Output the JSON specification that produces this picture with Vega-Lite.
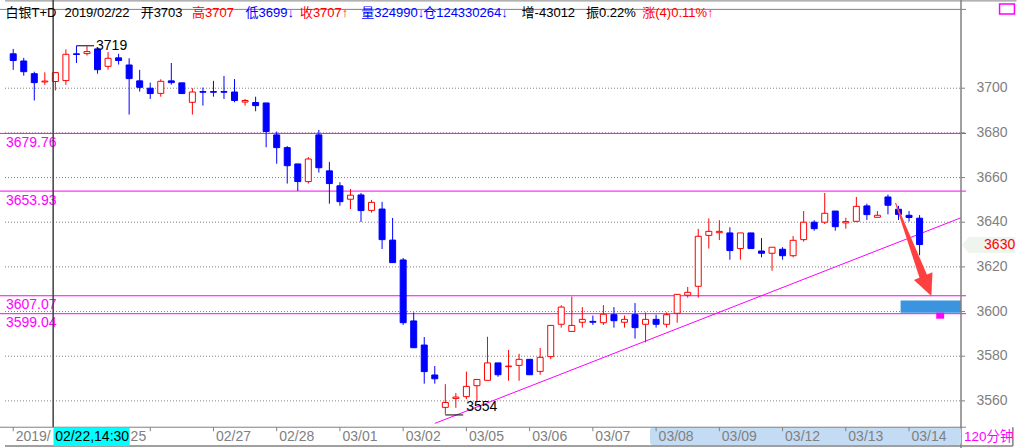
{
  "$schema": "https://vega.github.io/schema/vega-lite/v6.json",
  "width": 966,
  "height": 448,
  "autosize": {"type": "none"},
  "padding": {"left": 0, "top": 0, "right": 56, "bottom": 0},
  "background": "#ffffff",
  "config": {"view": {"stroke": null}},
  "datasets": {
    "k": [
      {"i":0,"o":3715.4,"h":3717.6,"l":3708.2,"c":3712.4},
      {"i":1,"o":3712.2,"h":3713.6,"l":3705.6,"c":3707.4},
      {"i":2,"o":3706.5,"h":3707.4,"l":3694.5,"c":3702.5},
      {"i":3,"o":3702.8,"h":3707.1,"l":3701.5,"c":3703.2},
      {"i":4,"o":3703.0,"h":3707.0,"l":3699.0,"c":3707.0},
      {"i":5,"o":3703.4,"h":3717.4,"l":3701.5,"c":3715.2},
      {"i":6,"o":3715.4,"h":3719.0,"l":3711.3,"c":3715.1},
      {"i":7,"o":3715.5,"h":3718.8,"l":3714.6,"c":3716.4},
      {"i":8,"o":3717.6,"h":3717.6,"l":3706.5,"c":3708.3},
      {"i":9,"o":3709.8,"h":3716.2,"l":3708.3,"c":3713.4},
      {"i":10,"o":3713.6,"h":3715.4,"l":3710.6,"c":3712.4},
      {"i":11,"o":3710.4,"h":3713.4,"l":3688.2,"c":3704.3},
      {"i":12,"o":3703.3,"h":3708.2,"l":3698.5,"c":3700.4},
      {"i":13,"o":3700.0,"h":3702.5,"l":3695.2,"c":3697.6},
      {"i":14,"o":3697.7,"h":3704.0,"l":3696.2,"c":3703.1},
      {"i":15,"o":3703.3,"h":3711.3,"l":3701.6,"c":3702.5},
      {"i":16,"o":3702.4,"h":3702.4,"l":3697.6,"c":3697.6},
      {"i":17,"o":3693.7,"h":3700.0,"l":3688.2,"c":3698.3},
      {"i":18,"o":3698.5,"h":3700.3,"l":3692.2,"c":3698.2},
      {"i":19,"o":3698.5,"h":3703.3,"l":3696.2,"c":3698.2},
      {"i":20,"o":3698.5,"h":3705.5,"l":3695.2,"c":3698.2},
      {"i":21,"o":3698.3,"h":3704.1,"l":3693.7,"c":3694.5},
      {"i":22,"o":3693.8,"h":3695.2,"l":3692.2,"c":3694.5},
      {"i":23,"o":3693.6,"h":3696.2,"l":3689.7,"c":3692.2},
      {"i":24,"o":3693.4,"h":3693.4,"l":3673.6,"c":3680.6},
      {"i":25,"o":3679.1,"h":3680.6,"l":3666.2,"c":3673.4},
      {"i":26,"o":3673.4,"h":3674.1,"l":3657.3,"c":3665.3},
      {"i":27,"o":3666.1,"h":3666.1,"l":3654.0,"c":3658.2},
      {"i":28,"o":3658.2,"h":3669.2,"l":3657.3,"c":3668.3},
      {"i":29,"o":3679.1,"h":3681.3,"l":3662.2,"c":3664.4},
      {"i":30,"o":3663.0,"h":3667.0,"l":3648.3,"c":3657.3},
      {"i":31,"o":3656.3,"h":3657.9,"l":3647.4,"c":3649.2},
      {"i":32,"o":3650.3,"h":3654.9,"l":3645.9,"c":3652.1},
      {"i":33,"o":3652.2,"h":3653.1,"l":3640.1,"c":3645.2},
      {"i":34,"o":3645.3,"h":3650.0,"l":3644.3,"c":3648.9},
      {"i":35,"o":3645.9,"h":3649.1,"l":3628.0,"c":3632.2},
      {"i":36,"o":3632.0,"h":3641.9,"l":3621.9,"c":3621.9},
      {"i":37,"o":3623.1,"h":3624.0,"l":3594.0,"c":3595.0},
      {"i":38,"o":3595.8,"h":3599.6,"l":3583.8,"c":3583.8},
      {"i":39,"o":3585.0,"h":3588.6,"l":3567.7,"c":3573.1},
      {"i":40,"o":3571.6,"h":3575.6,"l":3567.7,"c":3569.9},
      {"i":41,"o":3557.1,"h":3567.5,"l":3554.0,"c":3559.3},
      {"i":42,"o":3561.1,"h":3563.5,"l":3556.9,"c":3561.7},
      {"i":43,"o":3561.9,"h":3573.1,"l":3560.8,"c":3566.5},
      {"i":44,"o":3566.8,"h":3569.6,"l":3559.3,"c":3569.6},
      {"i":45,"o":3569.2,"h":3588.7,"l":3569.2,"c":3577.0},
      {"i":46,"o":3577.0,"h":3577.0,"l":3570.8,"c":3571.7},
      {"i":47,"o":3575.3,"h":3582.8,"l":3569.0,"c":3575.6},
      {"i":48,"o":3575.9,"h":3581.1,"l":3569.0,"c":3578.6},
      {"i":49,"o":3578.6,"h":3578.6,"l":3571.7,"c":3571.7},
      {"i":50,"o":3573.2,"h":3583.7,"l":3571.7,"c":3579.5},
      {"i":51,"o":3579.8,"h":3593.8,"l":3578.7,"c":3593.8},
      {"i":52,"o":3594.3,"h":3602.8,"l":3592.8,"c":3602.0},
      {"i":53,"o":3591.1,"h":3606.7,"l":3591.1,"c":3593.8},
      {"i":54,"o":3595.2,"h":3602.0,"l":3592.8,"c":3596.5},
      {"i":55,"o":3595.6,"h":3598.2,"l":3594.0,"c":3595.2},
      {"i":56,"o":3595.0,"h":3602.9,"l":3594.0,"c":3598.8},
      {"i":57,"o":3598.6,"h":3602.0,"l":3592.8,"c":3595.9},
      {"i":58,"o":3595.2,"h":3598.2,"l":3592.8,"c":3596.5},
      {"i":59,"o":3598.6,"h":3603.8,"l":3587.9,"c":3592.8},
      {"i":60,"o":3594.3,"h":3599.6,"l":3586.2,"c":3596.5},
      {"i":61,"o":3596.5,"h":3598.6,"l":3592.8,"c":3594.3},
      {"i":62,"o":3594.3,"h":3599.6,"l":3592.8,"c":3598.6},
      {"i":63,"o":3599.2,"h":3607.7,"l":3595.0,"c":3607.7},
      {"i":64,"o":3607.3,"h":3611.0,"l":3606.2,"c":3608.6},
      {"i":65,"o":3611.3,"h":3637.0,"l":3606.2,"c":3633.7},
      {"i":66,"o":3634.1,"h":3641.7,"l":3628.2,"c":3635.9},
      {"i":67,"o":3635.3,"h":3640.9,"l":3632.0,"c":3635.9},
      {"i":68,"o":3635.2,"h":3637.7,"l":3623.2,"c":3627.3},
      {"i":69,"o":3628.2,"h":3635.2,"l":3623.2,"c":3635.2},
      {"i":70,"o":3635.2,"h":3635.2,"l":3628.2,"c":3628.2},
      {"i":71,"o":3627.1,"h":3632.9,"l":3624.3,"c":3626.1},
      {"i":72,"o":3626.1,"h":3628.8,"l":3618.3,"c":3628.8},
      {"i":73,"o":3627.9,"h":3628.8,"l":3623.2,"c":3625.0},
      {"i":74,"o":3625.0,"h":3633.8,"l":3624.3,"c":3631.9},
      {"i":75,"o":3632.2,"h":3645.0,"l":3631.3,"c":3640.0},
      {"i":76,"o":3640.0,"h":3640.9,"l":3636.2,"c":3637.1},
      {"i":77,"o":3640.0,"h":3653.1,"l":3639.2,"c":3644.0},
      {"i":78,"o":3645.0,"h":3645.0,"l":3636.2,"c":3638.0},
      {"i":79,"o":3639.7,"h":3642.0,"l":3637.1,"c":3640.3},
      {"i":80,"o":3640.4,"h":3651.3,"l":3640.0,"c":3647.1},
      {"i":81,"o":3647.3,"h":3648.3,"l":3641.0,"c":3643.4},
      {"i":82,"o":3642.2,"h":3645.0,"l":3642.2,"c":3643.1},
      {"i":83,"o":3651.3,"h":3652.4,"l":3643.5,"c":3647.6},
      {"i":84,"o":3645.8,"h":3647.3,"l":3641.0,"c":3643.5},
      {"i":85,"o":3643.1,"h":3645.0,"l":3640.3,"c":3642.1},
      {"i":86,"o":3641.8,"h":3643.2,"l":3625.2,"c":3630.0}
    ],
    "lv": [{"v":3679.76},{"v":3653.93},{"v":3607.07},{"v":3599.04}],
    "yt": [{"v":3560},{"v":3580},{"v":3600},{"v":3620},{"v":3640},{"v":3660},{"v":3680},{"v":3700}],
    "trend": [{"i":40,"v":3549.9},{"i":89.93,"v":3642.0}],
    "arrow": [{"i":83.73,"v":3648.5},{"i":86.34,"v":3615.9}],
    "dates": [
      {"i":0,"t":"2019/"},{"i":13,"t":""},{"i":19,"t":"02/27"},
      {"i":25,"t":"02/28"},{"i":31,"t":"03/01"},{"i":37,"t":"03/02"},{"i":43,"t":"03/05"},
      {"i":49,"t":"03/06"},{"i":55,"t":"03/07"},{"i":61,"t":"03/08"},{"i":67,"t":"03/09"},
      {"i":73,"t":"03/12"},{"i":79,"t":"03/13"},{"i":85,"t":"03/14"}
    ]
  },
  "layer": [
    {
      "data": {"name": "yt"},
      "mark": {"type": "rule", "color": "#808080", "strokeWidth": 1, "strokeDash": [1, 2]},
      "encoding": {
        "x": {"datum": -0.779, "type": "quantitative", "scale": {"domain": [-0.779, 89.93], "nice": false, "zero": false}, "axis": null},
        "x2": {"datum": 89.93},
        "y": {"field": "v", "type": "quantitative", "scale": {"domain": [3538.9, 3739.5], "nice": false, "zero": false}, "axis": null}
      }
    },
    {
      "data": {"name": "lv"},
      "mark": {"type": "rule", "color": "#ff00ff", "strokeWidth": 1},
      "encoding": {
        "y": {"field": "v", "type": "quantitative", "axis": null}
      }
    },
    {
      "data": {"name": "trend"},
      "mark": {"type": "line", "color": "#ff00ff", "strokeWidth": 1},
      "encoding": {
        "x": {"field": "i", "type": "quantitative", "axis": null},
        "y": {"field": "v", "type": "quantitative", "axis": null}
      }
    },
    {
      "data": {"name": "k"},
      "mark": {"type": "rule", "strokeWidth": 1},
      "encoding": {
        "x": {"field": "i", "type": "quantitative", "axis": null},
        "y": {"field": "l", "type": "quantitative", "axis": null},
        "y2": {"field": "h"},
        "color": {"condition": {"test": "datum.c >= datum.o", "value": "#ff0000"}, "value": "#0000ff"}
      }
    },
    {
      "data": {"name": "k"},
      "mark": {"type": "bar", "size": 6, "strokeWidth": 1},
      "encoding": {
        "x": {"field": "i", "type": "quantitative", "axis": null},
        "y": {"field": "o", "type": "quantitative", "axis": null},
        "y2": {"field": "c"},
        "fill": {"condition": {"test": "datum.c >= datum.o", "value": "#ffffff"}, "value": "#0000ff"},
        "stroke": {"condition": {"test": "datum.c >= datum.o", "value": "#ff0000"}, "value": "#0000ff"}
      }
    },
    {
      "data": {"name": "lv"},
      "mark": {"type": "text", "align": "left", "baseline": "top", "dy": 2.5, "font": "Liberation Sans", "fontSize": 14, "color": "#ff00ff"},
      "encoding": {
        "x": {"datum": -0.69, "type": "quantitative", "axis": null},
        "y": {"field": "v", "type": "quantitative", "axis": null},
        "text": {"field": "v", "type": "quantitative", "format": ".2f"}
      }
    },
    {
      "data": {"values": [{}]},
      "mark": {"type": "rule", "color": "#000000", "strokeWidth": 1},
      "encoding": {"x": {"datum": 6.0, "type": "quantitative", "axis": null}, "x2": {"datum": 7.67}, "y": {"datum": 3719.0, "type": "quantitative", "axis": null}}
    },
    {
      "data": {"values": [{}]},
      "mark": {"type": "text", "text": "3719", "align": "left", "baseline": "middle", "font": "Liberation Sans", "fontSize": 14, "color": "#000000"},
      "encoding": {"x": {"datum": 7.86, "type": "quantitative", "axis": null}, "y": {"datum": 3719.0, "type": "quantitative", "axis": null}}
    },
    {
      "data": {"values": [{}]},
      "mark": {"type": "rule", "color": "#000000", "strokeWidth": 1},
      "encoding": {"x": {"datum": 41.0, "type": "quantitative", "axis": null}, "x2": {"datum": 42.7}, "y": {"datum": 3553.7, "type": "quantitative", "axis": null}}
    },
    {
      "data": {"values": [{}]},
      "mark": {"type": "text", "text": "3554", "align": "left", "baseline": "middle", "font": "Liberation Sans", "fontSize": 14, "color": "#000000"},
      "encoding": {"x": {"datum": 42.98, "type": "quantitative", "axis": null}, "y": {"datum": 3557.3, "type": "quantitative", "axis": null}}
    },
    {
      "data": {"values": [{}]},
      "mark": {"type": "rect", "color": "#3a94e0"},
      "encoding": {"x": {"datum": 84.2, "type": "quantitative", "axis": null}, "x2": {"datum": 89.93}, "y": {"datum": 3599.5, "type": "quantitative", "axis": null}, "y2": {"datum": 3604.9}}
    },
    {
      "data": {"values": [{}]},
      "mark": {"type": "rect", "color": "#ff00ff"},
      "encoding": {"x": {"datum": 87.58, "type": "quantitative", "axis": null}, "x2": {"datum": 88.33}, "y": {"datum": 3596.8, "type": "quantitative", "axis": null}, "y2": {"datum": 3599.5}}
    },
    {
      "data": {"name": "arrow"},
      "mark": {"type": "trail", "color": "#ff4040"},
      "encoding": {
        "x": {"field": "i", "type": "quantitative", "axis": null},
        "y": {"field": "v", "type": "quantitative", "axis": null},
        "size": {"field": "v", "type": "quantitative", "scale": {"domain": [3648.5, 3615.9], "range": [1, 8]}, "legend": null}
      }
    },
    {
      "data": {"values": [{}]},
      "mark": {"type": "point", "shape": "M -0.93 -1 L 0.93 -1 L 0 1 Z", "size": 466, "angle": 337.7, "filled": true, "color": "#ff4040", "opacity": 1},
      "encoding": {"x": {"datum": 86.73, "type": "quantitative", "axis": null}, "y": {"datum": 3611.4, "type": "quantitative", "axis": null}}
    },
    {
      "data": {"values": [{}]},
      "mark": {"type": "rule", "color": "#808080", "strokeWidth": 1},
      "encoding": {"y": {"datum": 3735.3, "type": "quantitative", "axis": null}}
    },
    {
      "data": {"values": [{}]},
      "mark": {"type": "rule", "color": "#808080", "strokeWidth": 1},
      "encoding": {"x": {"datum": -0.779, "type": "quantitative", "axis": null}, "x2": {"datum": 95.2}, "y": {"datum": 3739.1, "type": "quantitative", "axis": null}}
    },
    {
      "data": {"values": [{}]},
      "mark": {"type": "rect", "fillOpacity": 0, "stroke": "#ff00ff", "strokeWidth": 1.5},
      "encoding": {"x": {"datum": 93.59, "type": "quantitative", "axis": null}, "x2": {"datum": 95.0}, "y": {"datum": 3733.2, "type": "quantitative", "axis": null}, "y2": {"datum": 3737.7}}
    },
    {
      "data": {"values": [{}]},
      "mark": {"type": "rule", "color": "#404040", "strokeWidth": 1.5},
      "encoding": {"x": {"datum": 3.79, "type": "quantitative", "axis": null}, "y": {"datum": 3548.2, "type": "quantitative", "axis": null}, "y2": {"datum": 3739.5}}
    },
    {
      "data": {"name": "yt"},
      "mark": {"type": "rule", "color": "#808080", "strokeWidth": 1},
      "encoding": {"x": {"datum": 89.93, "type": "quantitative", "axis": null}, "x2": {"datum": 90.31}, "y": {"field": "v", "type": "quantitative", "axis": null}}
    },
    {
      "data": {"name": "yt"},
      "mark": {"type": "text", "align": "left", "baseline": "middle", "font": "Liberation Sans", "fontSize": 14, "color": "#808080"},
      "encoding": {"x": {"datum": 91.4, "type": "quantitative", "axis": null}, "y": {"field": "v", "type": "quantitative", "axis": null}, "text": {"field": "v", "type": "quantitative", "format": "d"}}
    },
    {
      "data": {"values": [{}]},
      "mark": {"type": "rule", "color": "#808080", "strokeWidth": 1.5},
      "encoding": {"x": {"datum": 89.93, "type": "quantitative", "axis": null}, "y": {"datum": 3538.9, "type": "quantitative", "axis": null}, "y2": {"datum": 3739.5}}
    },
    {
      "data": {"values": [{}]},
      "mark": {"type": "text", "text": "白银T+D", "align": "left", "baseline": "alphabetic", "font": "Liberation Sans, Noto Sans CJK SC", "fontSize": 13, "color": "#000000"},
      "encoding": {"x": {"datum": -0.73, "type": "quantitative", "axis": null}, "y": {"datum": 3732.0, "type": "quantitative", "axis": null}}
    },
    {
      "data": {"values": [{}]},
      "mark": {"type": "text", "text": "2019/02/22", "align": "left", "baseline": "alphabetic", "font": "Liberation Sans, Noto Sans CJK SC", "fontSize": 13, "color": "#000000"},
      "encoding": {"x": {"datum": 4.86, "type": "quantitative", "axis": null}, "y": {"datum": 3732.0, "type": "quantitative", "axis": null}}
    },
    {
      "data": {"values": [{}]},
      "mark": {"type": "text", "text": "开3703", "align": "left", "baseline": "alphabetic", "font": "Liberation Sans, Noto Sans CJK SC", "fontSize": 13, "color": "#000000"},
      "encoding": {"x": {"datum": 12.09, "type": "quantitative", "axis": null}, "y": {"datum": 3732.0, "type": "quantitative", "axis": null}}
    },
    {
      "data": {"values": [{}]},
      "mark": {"type": "text", "text": "高3707", "align": "left", "baseline": "alphabetic", "font": "Liberation Sans, Noto Sans CJK SC", "fontSize": 13, "color": "#ff0000"},
      "encoding": {"x": {"datum": 16.97, "type": "quantitative", "axis": null}, "y": {"datum": 3732.0, "type": "quantitative", "axis": null}}
    },
    {
      "data": {"values": [{}]},
      "mark": {"type": "text", "text": "低3699↓", "align": "left", "baseline": "alphabetic", "font": "Liberation Sans, Noto Sans CJK SC", "fontSize": 13, "color": "#0000ff"},
      "encoding": {"x": {"datum": 22.04, "type": "quantitative", "axis": null}, "y": {"datum": 3732.0, "type": "quantitative", "axis": null}}
    },
    {
      "data": {"values": [{}]},
      "mark": {"type": "text", "text": "收3707↑", "align": "left", "baseline": "alphabetic", "font": "Liberation Sans, Noto Sans CJK SC", "fontSize": 13, "color": "#ff0000"},
      "encoding": {"x": {"datum": 27.2, "type": "quantitative", "axis": null}, "y": {"datum": 3732.0, "type": "quantitative", "axis": null}}
    },
    {
      "data": {"values": [{}]},
      "mark": {"type": "text", "text": "量324990↓", "align": "left", "baseline": "alphabetic", "font": "Liberation Sans, Noto Sans CJK SC", "fontSize": 13, "color": "#0000ff"},
      "encoding": {"x": {"datum": 33.03, "type": "quantitative", "axis": null}, "y": {"datum": 3732.0, "type": "quantitative", "axis": null}}
    },
    {
      "data": {"values": [{}]},
      "mark": {"type": "text", "text": "仓124330264↓", "align": "left", "baseline": "alphabetic", "font": "Liberation Sans, Noto Sans CJK SC", "fontSize": 13, "color": "#0000ff"},
      "encoding": {"x": {"datum": 38.9, "type": "quantitative", "axis": null}, "y": {"datum": 3732.0, "type": "quantitative", "axis": null}}
    },
    {
      "data": {"values": [{}]},
      "mark": {"type": "text", "text": "增-43012", "align": "left", "baseline": "alphabetic", "font": "Liberation Sans, Noto Sans CJK SC", "fontSize": 13, "color": "#000000"},
      "encoding": {"x": {"datum": 48.24, "type": "quantitative", "axis": null}, "y": {"datum": 3732.0, "type": "quantitative", "axis": null}}
    },
    {
      "data": {"values": [{}]},
      "mark": {"type": "text", "text": "振0.22%", "align": "left", "baseline": "alphabetic", "font": "Liberation Sans, Noto Sans CJK SC", "fontSize": 13, "color": "#000000"},
      "encoding": {"x": {"datum": 54.34, "type": "quantitative", "axis": null}, "y": {"datum": 3732.0, "type": "quantitative", "axis": null}}
    },
    {
      "data": {"values": [{}]},
      "mark": {"type": "text", "text": "涨(4)0.11%↑", "align": "left", "baseline": "alphabetic", "font": "Liberation Sans, Noto Sans CJK SC", "fontSize": 13, "color": "#ff0000"},
      "encoding": {"x": {"datum": 59.69, "type": "quantitative", "axis": null}, "y": {"datum": 3732.0, "type": "quantitative", "axis": null}}
    },
    {
      "data": {"values": [{}]},
      "mark": {"type": "rect", "color": "#c4dbf4", "cornerRadius": 3},
      "encoding": {"x": {"datum": 60.42, "type": "quantitative", "axis": null}, "x2": {"datum": 89.93}, "y": {"datum": 3540.1, "type": "quantitative", "axis": null}, "y2": {"datum": 3548.2}}
    },
    {
      "data": {"values": [{}]},
      "mark": {"type": "rule", "color": "#808080", "strokeWidth": 1},
      "encoding": {"y": {"datum": 3548.2, "type": "quantitative", "axis": null}}
    },
    {
      "data": {"values": [{}]},
      "mark": {"type": "rule", "color": "#808080", "strokeWidth": 1.5},
      "encoding": {"x": {"datum": -0.779, "type": "quantitative", "axis": null}, "x2": {"datum": 94.85}, "y": {"datum": 3539.8, "type": "quantitative", "axis": null}}
    },
    {
      "data": {"values": [{}]},
      "mark": {"type": "rule", "color": "#808080", "strokeWidth": 1.5},
      "encoding": {"x": {"datum": 94.85, "type": "quantitative", "axis": null}, "y": {"datum": 3539.8, "type": "quantitative", "axis": null}, "y2": {"datum": 3548.2}}
    },
    {
      "data": {"name": "dates"},
      "mark": {"type": "rule", "color": "#808080", "strokeWidth": 1},
      "encoding": {"x": {"field": "i", "type": "quantitative", "axis": null}, "y": {"datum": 3546.4, "type": "quantitative", "axis": null}, "y2": {"datum": 3548.2}}
    },
    {
      "data": {"name": "dates"},
      "mark": {"type": "text", "align": "left", "baseline": "middle", "dx": 2.5, "font": "Liberation Sans", "fontSize": 14, "color": "#808080"},
      "encoding": {"x": {"field": "i", "type": "quantitative", "axis": null}, "y": {"datum": 3543.8, "type": "quantitative", "axis": null}, "text": {"field": "t"}}
    },
    {
      "data": {"values": [{}]},
      "mark": {"type": "text", "text": "25", "align": "left", "baseline": "middle", "font": "Liberation Sans", "fontSize": 14, "color": "#808080"},
      "encoding": {"x": {"datum": 11.14, "type": "quantitative", "axis": null}, "y": {"datum": 3543.8, "type": "quantitative", "axis": null}}
    },
    {
      "data": {"values": [{}]},
      "mark": {"type": "rect", "color": "#00ffff"},
      "encoding": {"x": {"datum": 3.82, "type": "quantitative", "axis": null}, "x2": {"datum": 11.05}, "y": {"datum": 3539.8, "type": "quantitative", "axis": null}, "y2": {"datum": 3547.9}}
    },
    {
      "data": {"values": [{}]},
      "mark": {"type": "text", "text": "02/22,14:30", "align": "left", "baseline": "middle", "font": "Liberation Sans", "fontSize": 14, "color": "#000000"},
      "encoding": {"x": {"datum": 3.98, "type": "quantitative", "axis": null}, "y": {"datum": 3543.8, "type": "quantitative", "axis": null}}
    },
    {
      "data": {"values": [{}]},
      "mark": {"type": "text", "text": "120分钟", "align": "left", "baseline": "middle", "font": "Liberation Sans, Noto Sans CJK SC", "fontSize": 13.5, "color": "#ff00ff"},
      "encoding": {"x": {"datum": 90.21, "type": "quantitative", "axis": null}, "y": {"datum": 3543.7, "type": "quantitative", "axis": null}}
    },
    {
      "data": {"values": [{}]},
      "mark": {"type": "point", "shape": "M -1 0 L -0.2 -1 L 1 -1 L 1 1 L -0.2 1 Z", "size": 256, "filled": true, "color": "#eef5ee", "opacity": 1},
      "encoding": {"x": {"datum": 90.8, "type": "quantitative", "axis": null}, "y": {"datum": 3629.8, "type": "quantitative", "axis": null}}
    },
    {
      "data": {"values": [{}]},
      "mark": {"type": "rect", "color": "#eef5ee"},
      "encoding": {"x": {"datum": 90.78, "type": "quantitative", "axis": null}, "x2": {"datum": 95.09}, "y": {"datum": 3626.2, "type": "quantitative", "axis": null}, "y2": {"datum": 3633.4}}
    },
    {
      "data": {"values": [{}]},
      "mark": {"type": "text", "text": "3630", "align": "left", "baseline": "middle", "font": "Liberation Sans", "fontSize": 14, "color": "#ff0000"},
      "encoding": {"x": {"datum": 92.12, "type": "quantitative", "axis": null}, "y": {"datum": 3629.8, "type": "quantitative", "axis": null}}
    }
  ]
}
